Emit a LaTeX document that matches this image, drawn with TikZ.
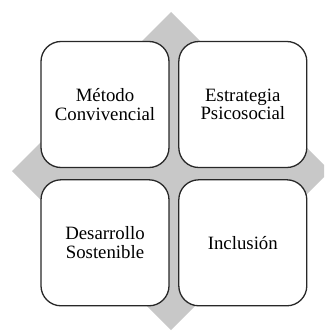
\documentclass[tikz,border=0pt]{standalone}
\usepackage{fontspec}
\newfontfamily\boxfont{Liberation Serif}
\usetikzlibrary{positioning,backgrounds}
\definecolor{diamondgray}{RGB}{200,200,200}
\definecolor{boxline}{RGB}{40,40,40}

\begin{document}
\begin{tikzpicture}[x=1pt, y=-1pt, node distance = 11pt and 8.5pt,
                    main/.style = {draw=boxline, line width=1.3pt, fill=white,
                      rounded corners=20pt, minimum width=128pt, minimum height=126pt,
                      inner sep=0pt, align=center,
                      font=\boxfont\fontsize{18.8pt}{18.6pt}\selectfont}]
\useasboundingbox (0,0) rectangle (324,331);
    \node[main] (metodo) at (105,104.5) {Método\\Convivencial};
\node[main, right= of metodo] (estrategia) {Estrategia\\Psicosocial};
\node[main, below= of metodo] (desarrollo) {Desarrollo\\Sostenible};
\node[main, below= of estrategia] (inclusion) {Inclusión};
    % gray diamond behind the boxes
    \begin{pgfonlayer}{background}
    \fill[diamondgray] (171,12) -- (324,165) -- (324,177) -- (171,330) -- (12,171) -- cycle;
    \end{pgfonlayer}
\end{tikzpicture}
\end{document}
